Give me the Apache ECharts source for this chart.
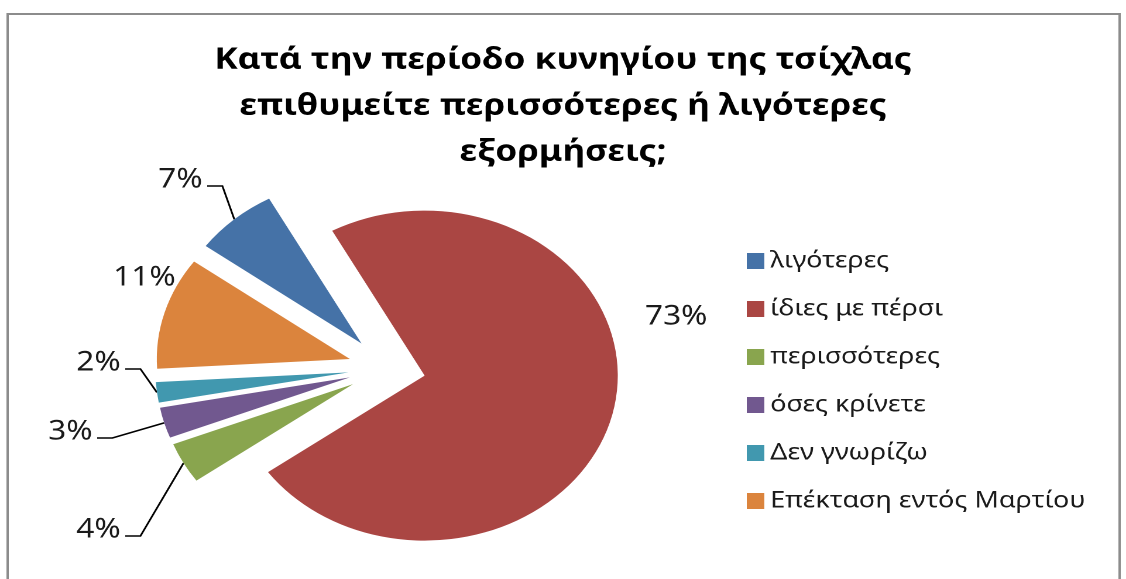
<!DOCTYPE html>
<html><head><meta charset="utf-8">
<script src="https://cdn.jsdelivr.net/npm/echarts@6/dist/echarts.min.js"></script>
<style>
html,body{margin:0;padding:0;background:#fff;overflow:hidden}
#wrap{width:1126px;height:579px;overflow:hidden;position:relative}
#c{width:962px;height:579px;transform:scaleX(1.1705);transform-origin:0 0}
</style>
</head><body><div id="wrap"><div id="c"></div></div>
<script>
const titleText = 'Κατά την περίοδο κυνηγίου της τσίχλας\nεπιθυμείτε περισσότερες ή λιγότερες\nεξορμήσεις;';
const categories = ['λιγότερες', 'ίδιες με πέρσι', 'περισσότερες', 'όσες κρίνετε', 'Δεν γνωρίζω', 'Επέκταση εντός Μαρτίου'];
const values = [7, 73, 4, 3, 2, 11];
const colors = ['#4572A7', '#AA4643', '#89A54E', '#71588F', '#4198AF', '#DB843D'];

// label layout (unstretched px): [x, y, align]
const labelAnchors = [
  [173, 180, 'right'],
  [551, 317, 'left'],
  [103, 530, 'right'],
  [79, 432, 'right'],
  [103, 363, 'right'],
  [150, 278, 'right']
];
const noLine = ['ίδιες με πέρσι', 'Επέκταση εντός Μαρτίου'];

const pieCenter = [330.6, 368.3];
const pieRadius = 165;
const pieStart = 143.8;
const explode = 33;

const chart = echarts.init(document.getElementById('c'), null, {devicePixelRatio: 2});
chart.setOption({
  animation: false,
  color: colors,
  title: {
    text: titleText,
    left: 'center',
    top: 32,
    textStyle: {fontFamily: 'Noto Sans', fontWeight: 'bold', fontSize: 30, lineHeight: 46, color: '#000'}
  },
  legend: {
    orient: 'vertical',
    left: 638,
    top: 249,
    padding: 0,
    icon: 'rect',
    itemWidth: 15,
    itemHeight: 16,
    itemGap: 24,
    selectedMode: false,
    data: categories,
    textStyle: {fontFamily: 'Noto Sans', fontSize: 23, lineHeight: 24, color: '#1a1a1a'}
  },
  graphic: [{
    type: 'polyline',
    shape: {points: [[6.5, 620], [6.5, 14], [956.5, 14], [956.5, 620]]},
    style: {stroke: '#8c8c8c', lineWidth: 2, fill: null},
    silent: true
  }],
  series: [{
    // exploded coloured slices
    type: 'pie',
    center: pieCenter,
    radius: pieRadius,
    startAngle: pieStart,
    clockwise: true,
    selectedMode: 'multiple',
    selectedOffset: explode,
    itemStyle: {borderWidth: 0},
    emphasis: {disabled: true},
    label: {show: false},
    labelLine: {show: false},
    data: categories.map(function (name, i) {
      return {name: name, value: values[i], selected: true};
    })
  }, {
    // percentage labels with leader lines
    type: 'pie',
    center: pieCenter,
    radius: pieRadius,
    startAngle: pieStart,
    clockwise: true,
    silent: true,
    avoidLabelOverlap: false,
    itemStyle: {color: 'rgba(0,0,0,0)', borderWidth: 0},
    emphasis: {disabled: true},
    label: {
      show: true,
      formatter: '{d}%',
      fontFamily: 'Noto Sans',
      fontSize: 27,
      color: '#1a1a1a'
    },
    labelLine: {show: true, length: 20, length2: 13, lineStyle: {color: '#000', width: 1.6}},
    labelLayout: function (p) {
      const a = labelAnchors[p.dataIndex];
      const res = {x: a[0], y: a[1], align: a[2], verticalAlign: 'middle'};
      const pts = p.labelLinePoints;
      if (pts && noLine.indexOf(categories[p.dataIndex]) < 0) {
        const vx = pts[0][0] - pieCenter[0], vy = pts[0][1] - pieCenter[1];
        const len = Math.sqrt(vx * vx + vy * vy) || 1;
        const start = [pts[0][0] + vx / len * explode, pts[0][1] + vy / len * explode];
        const sgn = a[2] === 'right' ? 1 : -1;
        const ly = a[1] + 6;
        res.labelLinePoints = [start, [a[0] + sgn * 17, ly], [a[0] + sgn * 4, ly]];
      }
      return res;
    },
    data: categories.map(function (name, i) {
      return {
        name: name,
        value: values[i],
        labelLine: {show: noLine.indexOf(name) < 0}
      };
    })
  }]
});
</script>
</body></html>
